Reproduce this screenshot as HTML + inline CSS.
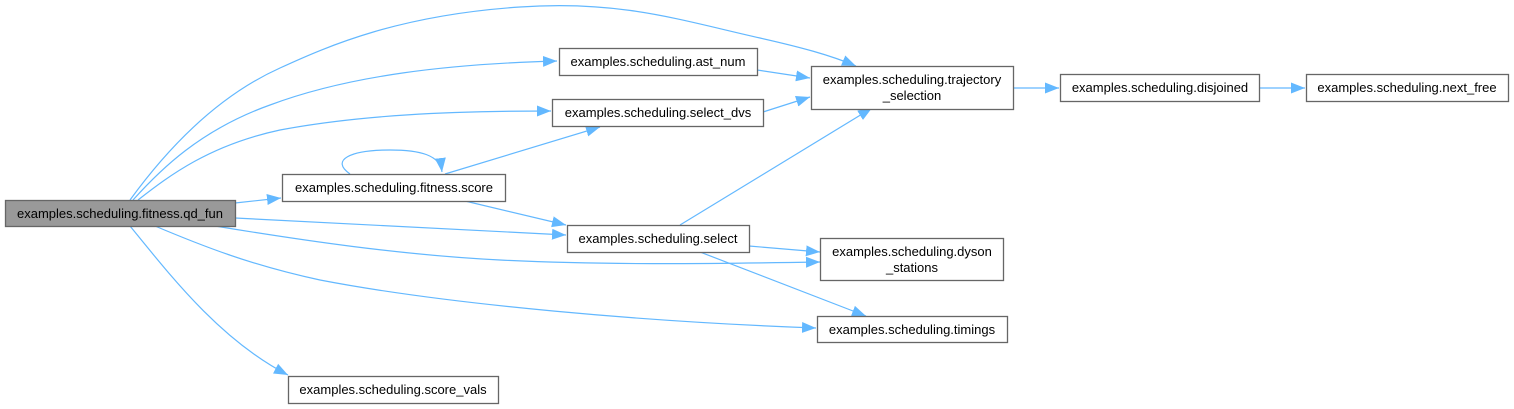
<!DOCTYPE html>
<html><head><meta charset="utf-8"><style>
html,body{margin:0;padding:0;background:#fff;}
svg{display:block;}
text{font-family:"Liberation Sans",Arial,sans-serif;font-size:13px;fill:#000;}
</style></head><body>
<svg width="1514" height="409" viewBox="0 0 1514 409" xmlns="http://www.w3.org/2000/svg">
<defs>
<marker id="a" markerUnits="userSpaceOnUse" markerWidth="16" markerHeight="12" refX="14" refY="6" orient="auto">
<path d="M0,0.5 L14,6 L0,11.5 Z" fill="#63b8ff"/>
</marker>
</defs>
<g fill="none" stroke="#63b8ff" stroke-width="1.2" marker-end="url(#a)">
<path d="M130,200 C170,145 220,95 280,68 C330,45 400,15 520,7 C620,0 680,20 760,38 C800,47 830,55 856,66"/>
<path d="M133,200 C160,170 200,130 270,105 C350,75 450,64 557,61"/>
<path d="M138,200 C170,175 210,145 280,130 C360,115 450,111 551,111"/>
<path d="M235,203 L281,198"/>
<path d="M350,174 C330,160 350,150 390,150 C420,150 440,155 442,172"/>
<path d="M445,174 L600,127"/>
<path d="M465,201 L566,225"/>
<path d="M235,218 L566,235"/>
<path d="M215,226 C300,240 400,255 500,260 C600,265 700,264 820,262"/>
<path d="M155,226 C200,245 250,265 320,280 C450,305 650,322 816,328"/>
<path d="M130,226 C170,275 220,340 288,375"/>
<path d="M757,70 L810,78"/>
<path d="M763,112 L810,97"/>
<path d="M680,225 L872,108"/>
<path d="M749,246 L820,252"/>
<path d="M700,252 L866,316"/>
<path d="M1013,88 L1059,88"/>
<path d="M1259,88 L1305,88"/>
</g>
<g stroke="#666" stroke-width="1.3">
<rect x="5.5" y="200.5" width="230" height="26" fill="#999"/>
<rect x="282.5" y="174.5" width="223" height="27" fill="#fff"/>
<rect x="559.5" y="48.5" width="198" height="27" fill="#fff"/>
<rect x="552.5" y="99.5" width="211" height="27" fill="#fff"/>
<rect x="811.5" y="66.5" width="202" height="43" fill="#fff"/>
<rect x="1060.5" y="74.5" width="199" height="27" fill="#fff"/>
<rect x="1306.5" y="74.5" width="202" height="27" fill="#fff"/>
<rect x="567.5" y="225.5" width="182" height="27" fill="#fff"/>
<rect x="820.5" y="238.5" width="183" height="42" fill="#fff"/>
<rect x="817.5" y="316.5" width="190" height="26" fill="#fff"/>
<rect x="288.5" y="376.5" width="210" height="27" fill="#fff"/>
</g>
<g text-anchor="middle">
<text x="120" y="218">examples.scheduling.fitness.qd_fun</text>
<text x="394" y="192">examples.scheduling.fitness.score</text>
<text x="658" y="66">examples.scheduling.ast_num</text>
<text x="658" y="117">examples.scheduling.select_dvs</text>
<text x="912" y="84">examples.scheduling.trajectory</text>
<text x="912" y="100">_selection</text>
<text x="1160" y="92">examples.scheduling.disjoined</text>
<text x="1407" y="92">examples.scheduling.next_free</text>
<text x="658" y="243">examples.scheduling.select</text>
<text x="912" y="256">examples.scheduling.dyson</text>
<text x="912" y="272">_stations</text>
<text x="912" y="334">examples.scheduling.timings</text>
<text x="393" y="394">examples.scheduling.score_vals</text>
</g>
</svg>
</body></html>
